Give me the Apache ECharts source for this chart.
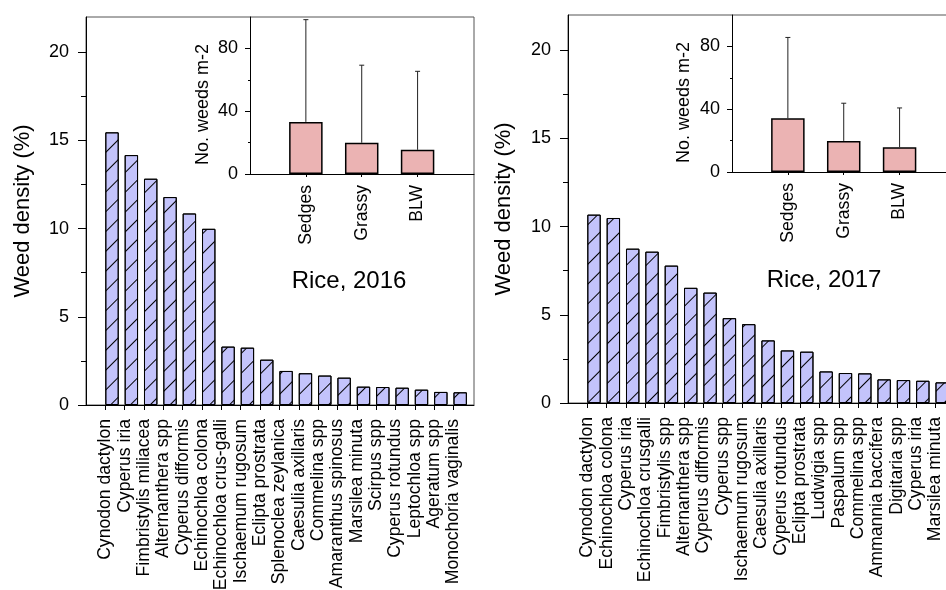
<!DOCTYPE html>
<html>
<head>
<meta charset="utf-8">
<script src="https://cdn.jsdelivr.net/npm/echarts@6/dist/echarts.min.js"></script>
<style>
  html, body { margin: 0; padding: 0; background: #fff; }
  #chart { width: 946px; height: 590px; }
</style>
</head>
<body>
<div id="chart"></div>
<script>
// weed species and their share of total weed density (%)
const species2016 = ['Cynodon dactylon', 'Cyperus iria', 'Fimbristylis miliacea', 'Alternanthera spp',
  'Cyperus difformis', 'Echinochloa colona', 'Echinochloa crus-galli', 'Ischaemum rugosum',
  'Eclipta prostrata', 'Splenoclea zeylanica', 'Caesulia axillaris', 'Commelina spp',
  'Amaranthus spinosus', 'Marsilea minuta', 'Scirpus spp', 'Cyperus rotundus', 'Leptochloa spp',
  'Ageratum spp', 'Monochoria vaginalis'];
const density2016 = [15.46, 14.17, 12.83, 11.79, 10.86, 9.99, 3.31, 3.25, 2.57, 1.93, 1.80, 1.67,
  1.55, 1.04, 1.02, 0.98, 0.87, 0.74, 0.72];

const species2017 = ['Cynodon dactylon', 'Echinochloa colona', 'Cyperus iria', 'Echinochloa crusgalli',
  'Fimbristylis spp', 'Alternanthera spp', 'Cyperus difformis', 'Cyperus spp', 'Ischaemum rugosum',
  'Caesulia axillaris', 'Cyperus rotundus', 'Eclipta prostrata', 'Ludwigia spp', 'Paspalum spp',
  'Commelina spp', 'Ammannia baccifera', 'Digitaria spp', 'Cyperus iria', 'Marsilea minuta'];
const density2017 = [10.68, 10.49, 8.75, 8.58, 7.79, 6.53, 6.26, 4.81, 4.47, 3.55, 2.98, 2.91,
  1.79, 1.70, 1.68, 1.34, 1.30, 1.26, 1.17];

// inset: weed groups, mean number of weeds m-2 and standard deviation
const groups = ['Sedges', 'Grassy', 'BLW'];
const weeds2016 = [33.2, 19.9, 15.4];
const weedsSd2016 = [65.1, 49.4, 50.0];
const weeds2017 = [34.3, 19.8, 15.8];
const weedsSd2017 = [51.4, 24.0, 25.0];

const FONT = 'Liberation Sans, Arial, sans-serif';
const chart = echarts.init(document.getElementById('chart'));

let grid = [], xAxis = [], yAxis = [], series = [], title = [];

function addPanel(p) {
  const g = grid.length;
  grid.push({ left: p.main.left, top: p.main.top, width: p.main.width, height: p.main.height,
    outerBoundsMode: 'none', containLabel: false,
    show: true, borderColor: '#555', borderWidth: 1, backgroundColor: 'transparent' });
  grid.push({ left: p.inset.left, top: p.inset.top, width: p.inset.width, height: p.inset.height,
    outerBoundsMode: 'none', containLabel: false, show: false });

  const xi = xAxis.length, yi = yAxis.length;
  const pos = p.names.map((n, i) => i + 1);

  // main x axis (species)
  xAxis.push({
    type: 'value', gridIndex: g, min: 0, max: 20.06,
    axisLine: { show: true, onZero: false, lineStyle: { color: '#000', width: 1 } },
    axisTick: { show: true, customValues: pos, length: 5, lineStyle: { color: '#000' } },
    axisLabel: { customValues: pos, rotate: 90, margin: 14, color: '#000', fontSize: 17.6, fontFamily: FONT,
      formatter: v => p.names[v - 1] },
    splitLine: { show: false }
  });
  // inset x axis (groups)
  xAxis.push({
    type: 'value', gridIndex: g + 1, min: 0, max: 4.01,
    axisLine: { show: true, onZero: false, lineStyle: { color: '#000', width: 1 } },
    axisTick: { show: true, customValues: [1, 2, 3], length: 3, lineStyle: { color: '#000' } },
    axisLabel: { customValues: [1, 2, 3], rotate: 90, margin: 11, color: '#000', fontSize: 17.6, fontFamily: FONT,
      formatter: v => groups[v - 1] },
    splitLine: { show: false }
  });

  // main y axis, major + minor ticks
  yAxis.push({
    type: 'value', gridIndex: g, min: 0, max: 22, position: 'left',
    name: 'Weed density (%)', nameLocation: 'middle', nameGap: p.nameGap,
    nameTextStyle: { fontSize: 22, color: '#000', fontFamily: FONT },
    axisLine: { show: true, lineStyle: { color: '#000', width: 1 } },
    axisTick: { show: true, customValues: [0, 5, 10, 15, 20], length: 8, lineStyle: { color: '#000' } },
    axisLabel: { customValues: [0, 5, 10, 15, 20], margin: 17, color: '#000', fontSize: 18, fontFamily: FONT },
    splitLine: { show: false }
  });
  yAxis.push({
    type: 'value', gridIndex: g, min: 0, max: 22, position: 'left', offset: 0,
    axisLine: { show: false },
    axisTick: { show: true, customValues: [2.5, 7.5, 12.5, 17.5], length: 5, lineStyle: { color: '#000' } },
    axisLabel: { show: false }, splitLine: { show: false }
  });
  // inset y axis
  yAxis.push({
    type: 'value', gridIndex: g + 1, min: 0, max: 100, position: 'left',
    name: 'No. weeds m-2', nameLocation: 'middle', nameGap: p.insetGap,
    nameTextStyle: { fontSize: 18, color: '#000', fontFamily: FONT, padding: [0, 18, 0, 0] },
    axisLine: { show: true, lineStyle: { color: '#000', width: 1 } },
    axisTick: { show: true, customValues: [0, 40, 80], length: 5, lineStyle: { color: '#000' } },
    axisLabel: { customValues: [0, 40, 80], margin: 12, color: '#000', fontSize: 18, fontFamily: FONT },
    splitLine: { show: false }
  });
  yAxis.push({
    type: 'value', gridIndex: g + 1, min: 0, max: 100, position: 'left', offset: 0,
    axisLine: { show: false },
    axisTick: { show: true, customValues: [20, 60], length: 2, lineStyle: { color: '#000' } },
    axisLabel: { show: false }, splitLine: { show: false }
  });

  // hatched bars, drawn just right of each tick
  series.push({
    type: 'bar', xAxisIndex: xi, yAxisIndex: yi, barWidth: 13.4,
    data: p.values.map((v, i) => [pos[i] + 0.345, v]),
    itemStyle: {
      color: '#c3c3fb', borderColor: '#000', borderWidth: 1,
      decal: { symbol: 'rect', symbolSize: 1, dashArrayX: [1, 0], dashArrayY: [1, 12.4],
        rotation: -Math.PI / 4, color: '#000' }
    },
    silent: true
  });
  series.push({
    type: 'bar', xAxisIndex: xi + 1, yAxisIndex: yi + 2, barWidth: 33.5,
    data: p.mean.map((v, i) => [i + 1, v]),
    itemStyle: { color: '#ebb3b3', borderColor: '#000', borderWidth: 1.5 },
    silent: true
  });
  series.push({
    type: 'custom', xAxisIndex: xi + 1, yAxisIndex: yi + 2, z: 5, silent: true,
    data: p.mean.map((v, i) => [i + 1, v, p.sd[i]]),
    renderItem(params, api) {
      const x = api.value(0), m = api.value(1), sd = api.value(2);
      const a = api.coord([x, m]), b = api.coord([x, m + sd]);
      return { type: 'group', children: [
        { type: 'line', shape: { x1: a[0], y1: a[1], x2: b[0], y2: b[1] }, style: { stroke: '#222', lineWidth: 1 } },
        { type: 'line', shape: { x1: b[0] - 2.5, y1: b[1], x2: b[0] + 2.5, y2: b[1] }, style: { stroke: '#222', lineWidth: 1 } }
      ] };
    }
  });

  title.push({ text: p.label, left: p.labelX, top: p.labelY, textAlign: 'center', padding: 0,
    textStyle: { fontSize: 24, fontWeight: 'normal', color: '#000', fontFamily: FONT } });
}

addPanel({
  names: species2016, values: density2016, mean: weeds2016, sd: weedsSd2016,
  main: { left: 86, top: 17, width: 388, height: 388 },
  inset: { left: 250, top: 17, width: 224, height: 157 },
  nameGap: 52, insetGap: 38, label: 'Rice, 2016', labelX: 349, labelY: 269
});
addPanel({
  names: species2017, values: density2017, mean: weeds2017, sd: weedsSd2017,
  main: { left: 568, top: 15, width: 388, height: 388 },
  inset: { left: 732, top: 15, width: 224, height: 157 },
  nameGap: 53, insetGap: 39, label: 'Rice, 2017', labelX: 824, labelY: 268
});

chart.setOption({
  animation: false,
  backgroundColor: '#fff',
  title: title,
  grid: grid,
  xAxis: xAxis,
  yAxis: yAxis,
  series: series
});
</script>
</body>
</html>
